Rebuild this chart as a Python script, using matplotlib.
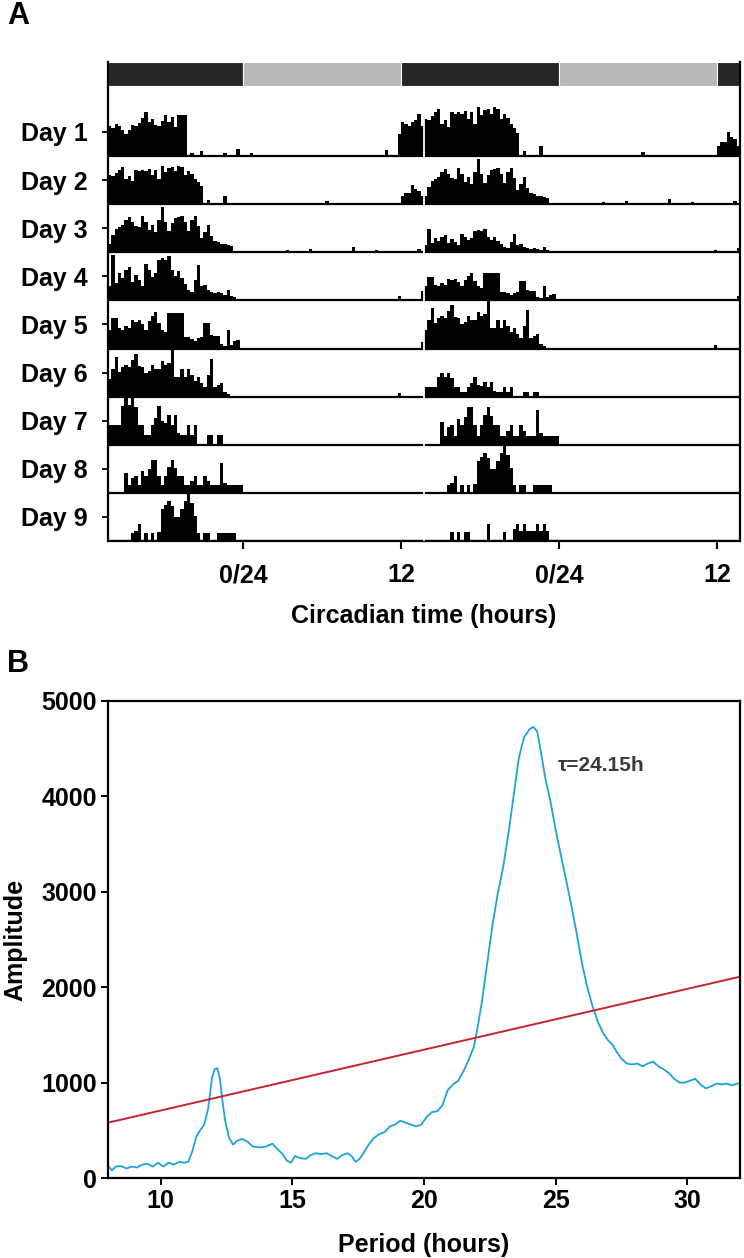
import matplotlib
matplotlib.use("Agg")
import matplotlib.pyplot as plt
from matplotlib import font_manager
import numpy as np

# ---------------- actogram (A) ----------------
bin_h = 0.25
ct_start = 13.75
n_bins = 96

day1 = [30, 28, 32, 30, 26, 22, 26, 31, 30, 33, 38, 44, 34, 37, 31, 30, 35, 41, 34, 39, 29, 41, 41, 41]
day1_spots = [(25, 3), (28, 5), (35, 3), (39, 7), (43, 3), (84, 6), (88, 22), (89, 34), (90, 32),
              (91, 30), (92, 34), (93, 36), (94, 42), (95, 30)]
day2 = [29, 28, 31, 34, 37, 25, 28, 23, 34, 33, 34, 33, 35, 29, 34, 25, 38, 32, 36, 37, 33, 38, 37, 29,
        33, 30, 25, 22, 18]
day2_spots = [(30, 4), (35, 8), (66, 3), (89, 8), (90, 11), (91, 11), (92, 19), (93, 15), (94, 13), (95, 8)]
day3 = [8, 17, 23, 25, 27, 32, 35, 30, 26, 25, 36, 30, 22, 27, 20, 32, 45, 30, 21, 29, 34, 35, 36, 30,
        21, 32, 36, 26, 14, 20, 27, 16, 11, 10, 8, 8, 7, 6]
day3_spots = [(54, 2), (61, 3), (74, 5), (81, 2), (94, 3)]
day4 = [14, 45, 17, 27, 22, 30, 33, 18, 25, 20, 14, 36, 30, 23, 27, 40, 42, 40, 44, 30, 24, 29, 22, 16,
        10, 8, 20, 35, 14, 15, 10, 8, 7, 8, 7, 5, 10, 4, 3]
day4_spots = [(88, 4), (95, 9)]
day5 = [18, 30, 30, 20, 18, 22, 20, 28, 26, 28, 24, 18, 27, 32, 36, 25, 18, 16, 35, 35, 35, 35, 35, 11,
        11, 9, 7, 10, 11, 25, 25, 13, 12, 12, 5, 3, 18, 4, 7, 8]
day5_spots = [(95, 6)]
day6 = [18, 28, 40, 25, 30, 32, 30, 37, 43, 31, 30, 24, 26, 32, 28, 28, 36, 32, 34, 47, 20, 20, 28, 20,
        28, 22, 16, 20, 14, 10, 22, 38, 10, 12, 14, 5, 3]
day6_spots = [(88, 4)]
day7 = [20, 20, 20, 20, 39, 47, 40, 47, 38, 20, 20, 10, 10, 20, 27, 39, 24, 22, 30, 20, 30, 12, 10, 10,
        20, 10, 20, 0, 0, 0, 10, 10, 0, 10, 10]
day7_spots = []
day8 = [0, 0, 0, 0, 0, 20, 8, 15, 17, 8, 22, 17, 24, 33, 33, 17, 8, 17, 26, 33, 25, 17, 17, 8,
        8, 12, 17, 8, 8, 17, 12, 8, 8, 8, 30, 10, 8, 8, 8, 8, 8]
day8_spots = []
day9 = [0, 0, 0, 0, 0, 0, 0, 8, 10, 17, 0, 8, 0, 8, 0, 9, 32, 36, 40, 35, 24, 24, 32, 40,
        47, 38, 25, 8, 0, 8, 8, 0, 0, 8, 8, 8, 8, 8, 8]
day9_spots = []
day10 = []
day10_spots = [(8, 9), (10, 9), (12, 9), (13, 9), (19, 17), (24, 9), (27, 12), (28, 17), (29, 10),
               (30, 17), (31, 10), (32, 10), (33, 10), (34, 17), (35, 10), (36, 17), (37, 10)]

# each row is scaled to its own maximum, so the next day looks bigger/smaller on the right
right_scale = [1.28, 1.0, 0.52, 0.77, 1.0, 0.5, 1.15, 1.0, 1.0]
row_full = 48.0

day_labels = ["Day %d" % i for i in range(1, 10)]
ld_edges = [13.75, 24, 36, 48, 60, 61.75]
ld_colors = ["#262626", "#b9b9b9", "#262626", "#b9b9b9", "#262626"]
ct_ticks = [24, 36, 48, 60]
ct_ticklabels = ["0/24", "12", "0/24", "12"]

# ---------------- periodogram (B) ----------------
period = [8.0, 8.15, 8.3, 8.5, 8.7, 8.9, 9.1, 9.3, 9.5, 9.7, 9.9, 10.1, 10.3, 10.5, 10.7, 10.9, 11.05,
          11.2, 11.35, 11.5, 11.65, 11.8, 11.95, 12.05, 12.15, 12.25, 12.35, 12.45, 12.6, 12.75, 12.9,
          13.1, 13.3, 13.5, 13.8, 14.0, 14.25, 14.4, 14.6, 14.8, 14.95, 15.1, 15.3, 15.5, 15.7, 15.9,
          16.1, 16.3, 16.5, 16.7, 16.9, 17.1, 17.25, 17.4, 17.55, 17.7, 17.9, 18.1, 18.3, 18.5, 18.7,
          18.9, 19.1, 19.3, 19.5, 19.7, 19.9, 20.1, 20.3, 20.5, 20.7, 20.9, 21.1, 21.3, 21.5, 21.7,
          21.9, 22.05, 22.2, 22.4, 22.6, 22.8, 23.0, 23.2, 23.4, 23.6, 23.8, 24.0, 24.15, 24.3, 24.45,
          24.6, 24.8, 25.0, 25.2, 25.4, 25.6, 25.8, 26.0, 26.2, 26.4, 26.6, 26.8, 27.0, 27.15, 27.3,
          27.5, 27.7, 27.9, 28.1, 28.3, 28.5, 28.7, 28.9, 29.1, 29.3, 29.5, 29.7, 29.9, 30.1, 30.3,
          30.5, 30.7, 30.9, 31.1, 31.3, 31.5, 31.7, 31.9, 32.0]
amplitude = [130, 80, 120, 125, 100, 120, 110, 140, 150, 120, 160, 120, 160, 140, 170, 160, 170,
             280, 430, 500, 560, 720, 1050, 1140, 1150, 1040, 800, 600, 420, 350, 390,
             410, 380, 330, 320, 330, 360, 310, 260, 180, 160, 230, 210, 200, 240, 260,
             250, 260, 230, 200, 240, 260, 230, 170, 200, 260, 350, 420, 460, 480, 540,
             560, 600, 580, 560, 540, 560, 640, 690, 700, 760, 920, 980, 1020, 1120, 1240,
             1380, 1600, 1850, 2250, 2650, 2980, 3250, 3600, 4000, 4400, 4620, 4700, 4730, 4680, 4450,
             4200, 3950, 3650, 3380, 3120, 2850, 2560, 2250, 2000, 1800, 1640, 1520, 1440, 1400, 1330,
             1250, 1200, 1190, 1200, 1170, 1200, 1220, 1170, 1140, 1100, 1040, 1000, 1000, 1020, 1040,
             980, 940, 960, 990, 980, 990, 970, 990, 990]
sig_period = [8, 32]
sig_amplitude = [580, 2110]
tau_text = "\u03c4=24.15h"

# ---------------- fonts ----------------
names = {f.name for f in font_manager.fontManager.ttflist}
if "Liberation Sans Narrow" in names:
    plt.rcParams["font.family"] = ["Liberation Sans Narrow", "DejaVu Sans"]
    fs = 22
else:
    plt.rcParams["font.family"] = ["Liberation Sans", "DejaVu Sans"]
    fs = 18
plt.rcParams["font.weight"] = "bold"


def build(bout, spots):
    a = np.zeros(n_bins)
    a[:len(bout)] = bout
    for b, h in spots:
        a[b] = h
    return a


days = [build(day1, day1_spots), build(day2, day2_spots), build(day3, day3_spots),
        build(day4, day4_spots), build(day5, day5_spots), build(day6, day6_spots),
        build(day7, day7_spots), build(day8, day8_spots), build(day9, day9_spots),
        build(day10, day10_spots)]

fig = plt.figure(figsize=(7.44, 12.58), dpi=100)
W, H = 744.0, 1258.0

# ---- panel A ----
axA = fig.add_axes([108 / W, (H - 541) / H, 632 / W, (541 - 62) / H])
n_rows = 9
bar_bottom = n_rows - 1 + 1.455
bar_top = n_rows - 1 + 1.954
xs = ct_start + np.arange(n_bins) * bin_h
for r in range(n_rows):
    base = n_rows - 1 - r
    left = np.minimum(days[r] / row_full, 1.02)
    right = np.minimum(days[r + 1] * right_scale[r] / row_full, 1.02)
    m = left > 0
    axA.bar(xs[m], left[m], width=bin_h, bottom=base, align="edge", color="black", linewidth=0)
    m = right > 0
    axA.bar(xs[m] + 24, right[m], width=bin_h, bottom=base, align="edge", color="black", linewidth=0)
    axA.hlines(base, ct_start, ct_start + 48, color="black", lw=1.6, zorder=3)

# white gap between the two halves
axA.vlines(ct_start + 24, 0, bar_bottom, color="white", lw=1.3, zorder=4)

for i in range(len(ld_colors)):
    axA.bar(ld_edges[i], bar_top - bar_bottom, width=ld_edges[i + 1] - ld_edges[i], bottom=bar_bottom,
            align="edge", color=ld_colors[i], edgecolor="white", linewidth=0.8, zorder=2)

axA.set_xlim(ct_start, ct_start + 48)
axA.set_ylim(0, bar_top)
axA.spines["top"].set_visible(False)
for s in ["left", "right", "bottom"]:
    axA.spines[s].set_linewidth(1.6)
axA.set_xticks(ct_ticks)
axA.set_xticklabels(ct_ticklabels, fontsize=fs, fontweight="bold")
axA.set_yticks([n_rows - 1 - r + 0.5 for r in range(n_rows)])
axA.set_yticklabels(day_labels, fontsize=fs, fontweight="bold")
axA.tick_params(axis="x", direction="out", length=6, width=1.5, pad=10)
axA.tick_params(axis="y", direction="out", length=4.5, width=1.3, pad=10)
axA.set_xlabel("Circadian time (hours)", fontsize=fs, fontweight="bold", labelpad=12)

# ---- panel B ----
axB = fig.add_axes([108 / W, (H - 1178) / H, 632 / W, (1178 - 701) / H])
axB.plot(period, amplitude, color="#1ca3dd", lw=1.3)
axB.plot(sig_period, sig_amplitude, color="#c4242f", lw=1.4)
axB.set_xlim(8, 32)
axB.set_ylim(0, 5000)
axB.set_xticks([10, 15, 20, 25, 30])
axB.set_yticks([0, 1000, 2000, 3000, 4000, 5000])
for s in axB.spines.values():
    s.set_linewidth(1.6)
axB.tick_params(direction="out", length=5, width=1.4, pad=3, labelsize=fs)
for lab in axB.get_xticklabels() + axB.get_yticklabels():
    lab.set_fontweight("bold")
axB.set_xlabel("Period (hours)", fontsize=fs, fontweight="bold", labelpad=14)
axB.set_ylabel("Amplitude", fontsize=fs, fontweight="bold", labelpad=10)
axB.text(25.1, 4320, tau_text, fontsize=fs - 3, fontweight="bold", color="#3a3a3a",
         ha="left", va="center")

fig.text(7 / W, 1 - 16 / H, "A", fontsize=fs + 4, fontweight="bold", ha="left", va="center")
fig.text(7 / W, 1 - 664 / H, "B", fontsize=fs + 4, fontweight="bold", ha="left", va="center")

fig.savefig("out.png", dpi=100)
